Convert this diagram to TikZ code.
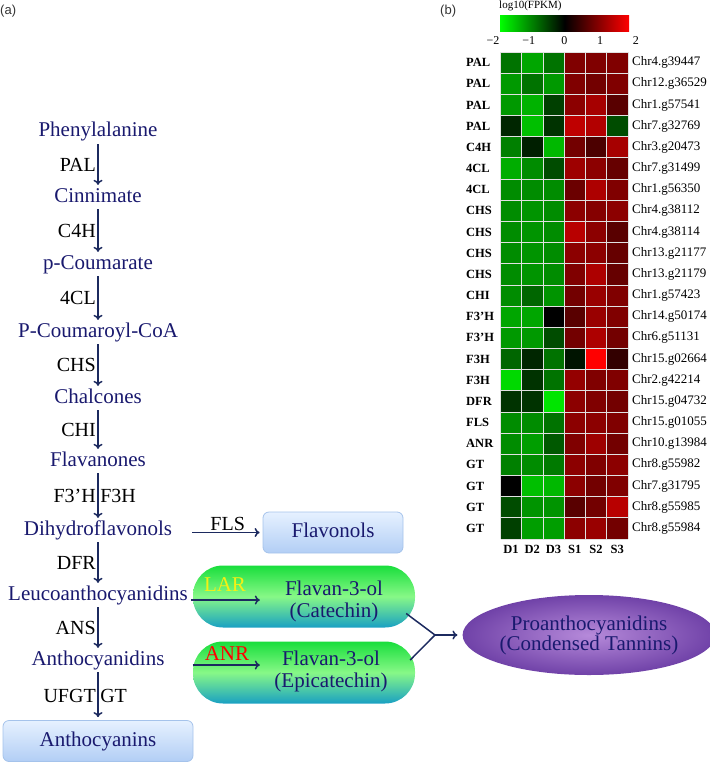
\documentclass[tikz,border=0pt]{standalone}
\usepackage{fontspec}
\setmainfont{Liberation Serif}
\setsansfont{Liberation Sans}
\usetikzlibrary{arrows.meta,shapes.geometric}
\definecolor{metabcol}{RGB}{25,25,110}
\definecolor{arrowcol}{RGB}{28,42,95}
\definecolor{boxtop}{RGB}{230,241,255}
\definecolor{boxbot}{RGB}{178,206,245}
\definecolor{boxedge}{RGB}{165,195,235}
\definecolor{pilltop}{RGB}{25,222,60}
\definecolor{pillmid}{RGB}{135,248,135}
\definecolor{pillbot}{RGB}{25,160,195}
\definecolor{proin}{RGB}{182,138,218}
\definecolor{proout}{RGB}{112,66,168}
\definecolor{larcol}{RGB}{245,240,20}
\definecolor{gridcol}{RGB}{225,225,225}

\begin{document}
\begin{tikzpicture}[x=1pt,y=-1pt,
        every node/.style={inner sep=2pt},
        metab/.style={text=metabcol,font=\fontsize{21}{22}\selectfont,text height=14pt,text depth=4pt,inner sep=3pt},
        enz/.style={font=\fontsize{20}{22}\selectfont,inner sep=1.5pt},
        flow/.style={draw=arrowcol,line width=1.5pt,-{To[length=5pt,width=9pt]}},
        joinline/.style={draw=arrowcol,line width=1.5pt},
        softbox/.style={metab,draw=boxedge,line width=0.8pt,rounded corners=6pt,top color=boxtop,bottom color=boxbot,minimum height=41pt},
        pill/.style={rounded corners=30pt,top color=pilltop,bottom color=pillbot,middle color=pillmid,minimum width=222pt,minimum height=62pt,inner sep=0pt},
        pilltext/.style={text=metabcol,font=\fontsize{21}{22}\selectfont,align=center},
        panel/.style={font=\sffamily\fontsize{13}{15}\selectfont,text=black!80,anchor=west,inner sep=0pt},
        rowlab/.style={font=\bfseries\fontsize{12.5}{14}\selectfont,anchor=west,inner sep=0pt},
        gidlab/.style={font=\fontsize{13}{15}\selectfont,anchor=west,inner sep=0pt},
        collab/.style={font=\bfseries\fontsize{12.5}{14}\selectfont,inner sep=0pt},
        tick/.style={font=\fontsize{12}{14}\selectfont,inner sep=0pt}]

    \useasboundingbox (0,0) rectangle (709,770);

    \node[panel] (pa) at (0,11) {(a)};
    \node[panel] (pb) at (440,11) {(b)};

    \node[metab] (phe) at (98,132) {Phenylalanine};
    \node[metab] (cin) at (98,197) {Cinnimate};
    \node[metab] (pcou) at (98,264) {p-Coumarate};
    \node[metab] (pcoa) at (98,332) {P-Coumaroyl-CoA};
    \node[metab] (chal) at (98,398) {Chalcones};
    \node[metab] (flav) at (98,461) {Flavanones};
    \node[metab] (dhf) at (98,530) {Dihydroflavonols};
    \node[metab] (leuco) at (98,595) {Leucoanthocyanidins};
    \node[metab] (antho) at (98,660) {Anthocyanidins};
    \node[softbox,minimum width=190pt] (anthoc) at (98,741) {Anthocyanins};

    \draw[flow] (phe) -- node[enz,left] (pal) {PAL} (cin);
    \draw[flow] (cin) -- node[enz,left] (c4h) {C4H} (pcou);
    \draw[flow] (pcou) -- node[enz,left] (fourcl) {4CL} (pcoa);
    \draw[flow] (pcoa) -- node[enz,left] (chs) {CHS} (chal);
    \draw[flow] (chal) -- node[enz,left] (chi) {CHI} (flav);
    \draw[flow] (flav) -- node[enz,left] (f3ph) {F3’H} node[enz,right] (f3h) {F3H} (dhf);
    \draw[flow] (dhf) -- node[enz,left] (dfr) {DFR} (leuco);
    \draw[flow] (leuco) -- node[enz,left] (ans) {ANS} (antho);
    \draw[flow,shorten >=3pt] (antho) -- node[enz,left] (ufgt) {UFGT} node[enz,right] (gt) {GT} (anthoc);

    \node[softbox,minimum width=140pt] (flavonols) at (333,532.5) {Flavonols};
    \draw[flow,shorten <=17pt,shorten >=3pt] (flavonols.west -| dhf.east) -- node[enz,above,pos=0.6] (fls) {FLS} (flavonols.west);

    \node[pill] (catechin) at (304,596.5) {};
    \node[pill] (epicat) at (304,672.5) {};
    \node[pilltext] (cattext) at (334,601) {Flavan-3-ol\\(Catechin)};
    \node[pilltext] (epitext) at (331,671) {Flavan-3-ol\\(Epicatechin)};
    \coordinate (lartip) at ([xshift=67pt]catechin.west);
    \coordinate (anrtip) at ([xshift=67pt]epicat.west);
    \draw[flow] (leuco.base east) -- (leuco.base east -| lartip);
    \draw[flow,shorten <=25pt] (antho.base east) -- (antho.base east -| anrtip);
    \node[enz,text=larcol,font=\fontsize{21}{22}\selectfont] (lar) at (225,585) {LAR};
    \node[enz,text=red,font=\fontsize{21}{22}\selectfont] (anr) at (227,654) {ANR};

    \node[ellipse,minimum width=218pt,minimum height=80pt,inner sep=0pt,inner color=proin,outer color=proout,
        text=metabcol,align=center,font=\fontsize{21}{20}\selectfont] (proan) at (589,635) {Proanthocyanidins\\(Condensed Tannins)};
    \coordinate (catout) at ([xshift=-9pt,yshift=-17pt]catechin.east);
    \coordinate (epiout) at ([xshift=-5pt,yshift=12.5pt]epicat.east);
    \coordinate (join) at (435,635);
    \draw[joinline] (catout) -- (join) -- (epiout);
    \draw[flow,shorten >=5pt] (join) -- (proan);

    \node[font=\fontsize{11}{13}\selectfont,anchor=west,inner sep=0pt] (scale) at (499,6) {log10(FPKM)};
    \shade[left color=green,right color=red,middle color=black] (500,16) rectangle (629,32);
    \foreach \t [count=\i from 0] in {−2,−1,0,1,2}
        \node[tick] (tick\i) at ({493+35.7*\i},41) {\t};

    \foreach \enz/\gid/\vals [count=\r from 0] in {
            PAL/Chr4.g39447/{-45,-65,-45,50,50,50},
            PAL/Chr12.g36529/{-60,-45,-60,50,45,50},
            PAL/Chr1.g57541/{-60,-70,-25,55,65,35},
            PAL/Chr7.g32769/{-15,-75,-20,75,70,-30},
            C4H/Chr3.g20473/{-50,-12,-72,45,30,65},
            4CL/Chr7.g31499/{-68,-55,-30,62,55,40},
            4CL/Chr1.g56350/{-55,-55,-55,42,68,50},
            CHS/Chr4.g38112/{-55,-58,-55,55,52,55},
            CHS/Chr4.g38114/{-55,-58,-55,72,55,35},
            CHS/Chr13.g21177/{-55,-58,-55,55,55,40},
            CHS/Chr13.g21179/{-55,-58,-55,50,68,40},
            CHI/Chr1.g57423/{-55,-40,-58,45,60,50},
            F3’H/Chr14.g50174/{-65,-65,0,35,60,50},
            F3’H/Chr6.g51131/{-60,-60,-30,45,68,45},
            F3H/Chr15.g02664/{-40,-15,-45,-8,100,20},
            F3H/Chr2.g42214/{-85,-20,-45,58,50,50},
            DFR/Chr15.g04732/{-20,-20,-90,55,50,45},
            FLS/Chr15.g01055/{-55,-55,-45,55,55,50},
            ANR/Chr10.g13984/{-55,-62,-35,50,62,45},
            GT/Chr8.g55982/{-50,-55,-48,55,50,55},
            GT/Chr7.g31795/{0,-75,-72,55,45,50},
            GT/Chr8.g55985/{-30,-58,-58,35,45,72},
            GT/Chr8.g55984/{-25,-62,-62,55,60,45}}{
        \node[rowlab] (row\r) at (466,{62.6+21.17*\r}) {\enz};
        \node[gidlab] (gid\r) at (632,{62.6+21.17*\r}) {\gid};
        \foreach \v [count=\c from 0] in \vals {
            \pgfmathtruncatemacro\a{abs(\v)}
            \ifnum\v<0 \def\hue{green}\else\def\hue{red}\fi
            \fill[\hue!\a!black] ({500.5+21.25*\c},{52+21.17*\r}) rectangle ++(21.25,21.17);
        }
    }
    \foreach \c in {0,...,6}
        \draw[gridcol,line width=0.7pt] ({500.5+21.25*\c},52) -- ++(0,486.9);
    \foreach \r in {0,...,23}
        \draw[gridcol,line width=0.7pt] (500.5,{52+21.17*\r}) -- ++(127.5,0);
    \foreach \s [count=\c from 0] in {D1,D2,D3,S1,S2,S3}
        \node[collab] (col\c) at ({511+21.25*\c},549) {\s};
\end{tikzpicture}
\end{document}
